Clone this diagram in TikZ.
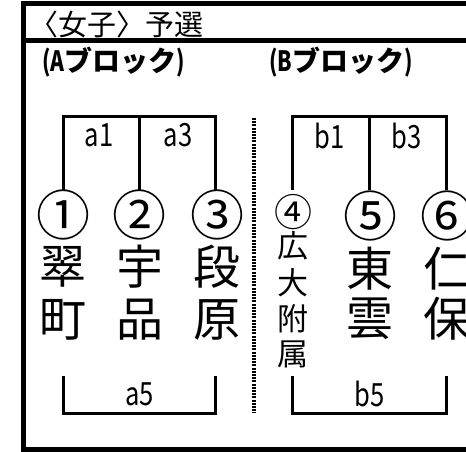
\documentclass[tikz,border=0pt]{standalone}
\usepackage{fontspec}
\newfontfamily\jp{Noto Sans CJK JP}
\newfontfamily\jpn[FakeStretch=0.8]{Noto Sans CJK JP}
\newfontfamily\jph[FakeStretch=0.75]{Noto Sans CJK JP}
\begin{document}
\begin{tikzpicture}[x=1pt,y=-1pt,
  frame/.style={line width=5pt},
  br/.style={line width=3pt},
  sep/.style={line width=3.5pt, dash pattern=on 2pt off 1.2pt},
  big/.style={inner sep=0pt, font=\jp\fontsize{47}{47}\selectfont},
  bignum/.style={inner sep=0pt, font=\jp\fontsize{54}{54}\selectfont},
  small/.style={inner sep=0pt, font=\jp\fontsize{31}{31}\selectfont},
  smallnum/.style={inner sep=0pt, font=\jp\fontsize{38}{38}\selectfont},
  lab/.style={inner sep=0pt, font=\jpn\fontsize{32}{32}\selectfont},
  head/.style={inner sep=0pt, anchor=west, font=\jp\bfseries\fontsize{28}{28}\selectfont},
  ttl/.style={inner sep=0pt, anchor=west, font=\jp\fontsize{29}{29}\selectfont}]
\useasboundingbox (0,0) rectangle (466,452);
\clip (0,0) rectangle (466,452);
% frame
\draw[frame] (23.5,1.5) -- (23.5,452);
\draw[frame] (21,4) -- (470,4);
\draw[frame] (21,41) -- (470,41);
\draw[frame] (21,449.5) -- (470,449.5);
% headings
\node[ttl] (title) at (29,24) {〈女子〉予選};
\node[head] (ha) at (42,62) {{\jph\bfseries (A}ブロック{\jph\bfseries )}};
\node[head] (hb) at (269,62) {{\jph\bfseries (B}ブロック{\jph\bfseries )}};
% bracket coordinates
\coordinate (ta1) at (63,190);   \coordinate (ta2) at (139,190);  \coordinate (ta3) at (215.5,190);
\coordinate (tb1) at (292.5,190);\coordinate (tb2) at (369.5,190);\coordinate (tb3) at (446.5,190);
\coordinate (topa) at (63,116);  \coordinate (topb) at (292.5,116);
\coordinate (ba1) at (63,376);   \coordinate (ba3) at (215.5,376);
\coordinate (bb1) at (292.5,376);\coordinate (bb3) at (446.5,376);
\coordinate (bota) at (63,413.5);\coordinate (botb) at (292.5,413.5);
% top brackets
\draw[br] (ta1) |- (ta3 |- topa) -- (ta3);
\draw[br] (ta2 |- topa) -- (ta2);
\draw[br] (tb1) |- (tb3 |- topb) -- (tb3);
\draw[br] (tb2 |- topb) -- (tb2);
% bottom brackets
\draw[br] (ba1) |- (ba3 |- bota) -- (ba3);
\draw[br] (bb1) |- (bb3 |- botb) -- (bb3);
% separator
\coordinate (s1) at (254,118); \coordinate (s2) at (254,413);
\draw[sep] (s1) -- (s2);
% labels
\node[lab] (la1) at (99,135.5) {a1};
\node[lab] (la3) at (178,135.5) {a3};
\node[lab] (lb1) at (330,135.5) {b1};
\node[lab] (lb3) at (407,135.5) {b3};
\node[lab] (la5) at (139.5,394) {a5};
\node[lab] (lb5) at (370,394) {b5};
% numbers
\node[bignum] (n1) at (63,215) {①};
\node[bignum] (n2) at (139.5,215) {②};
\node[bignum] (n3) at (217,215) {③};
\node[smallnum] (n4) at (293,212) {④};
\node[bignum] (n5) at (370,216) {⑤};
\node[bignum] (n6) at (447,216) {⑥};
% names
\node[big] (k1a) at (63,267) {翠};
\node[big] (k1b) at (63,320) {町};
\node[big] (k2a) at (139.5,267) {宇};
\node[big] (k2b) at (139.5,320) {品};
\node[big] (k3a) at (217,267) {段};
\node[big] (k3b) at (217,320) {原};
\node[small] (k4a) at (293,246) {広};
\node[small] (k4b) at (293,283) {大};
\node[small] (k4c) at (293,319) {附};
\node[small] (k4d) at (293,354) {属};
\node[big] (k5a) at (370,269) {東};
\node[big] (k5b) at (370,319) {雲};
\node[big] (k6a) at (447,269) {仁};
\node[big] (k6b) at (447,319) {保};
\end{tikzpicture}
\end{document}
